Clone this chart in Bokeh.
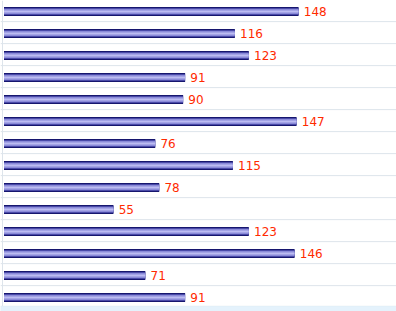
from bokeh.plotting import figure
from bokeh.models import Range1d, Span, BoxAnnotation, ColumnDataSource
from bokeh.embed import file_html
from bokeh.resources import INLINE
from bokeh.core.properties import value

values = [148, 116, 123, 91, 90, 147, 76, 115, 78, 55, 123, 146, 71, 91]
labels = [str(v) for v in values]
rows = list(range(len(values)))

src = ColumnDataSource(dict(y=rows, v=values, lab=labels,
                            lx=[v + 2.6 for v in values]))

p = figure(width=396, height=311, output_backend="svg", toolbar_location=None,
           x_range=Range1d(-1.76, 197.2), y_range=Range1d(13.636, -0.5),
           x_axis_type=None, y_axis_type=None, min_border=0,
           outline_line_color=None, background_fill_color="white",
           border_fill_color="white")
p.xgrid.visible = False
p.ygrid.visible = False

# row separators
for i in rows[:-1]:
    p.add_layout(Span(location=i + 0.46, dimension="width",
                      line_color="#dde4eb", line_width=1))
# left axis line
p.add_layout(Span(location=-0.75, dimension="height", line_color="#dde4eb", line_width=1))
# bottom band
p.add_layout(BoxAnnotation(top=13.386, bottom=13.7, fill_color="#e4f2fc",
                           fill_alpha=1, line_color="#d6e0ea", line_width=1))

# gradient bars as layered stripes
layers = [(0.41, "#16166e"), (0.32, "#4a4aa8"), (0.23, "#8a8ad8"), (0.09, "#bcbcf2")]
for h, c in layers:
    p.hbar(y="y", left=0, right="v", height=h, source=src,
           fill_color=c, line_color=None)

p.text(x="lx", y="y", text="lab", source=src, text_color="#ff2a00",
       text_font=value("DejaVu Sans"), text_font_size="12px",
       text_baseline="middle", text_align="left")

open("out.html", "w").write(file_html(p, INLINE))
